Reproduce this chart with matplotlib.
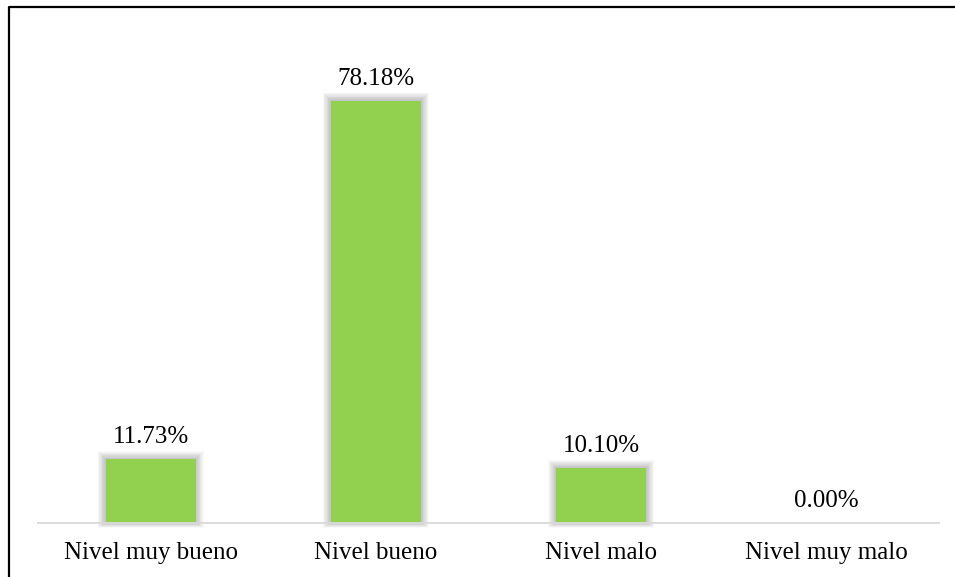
import matplotlib
matplotlib.use('Agg')
import matplotlib.pyplot as plt
from matplotlib.patches import Rectangle
from matplotlib.lines import Line2D

categories = ['Nivel muy bueno', 'Nivel bueno', 'Nivel malo', 'Nivel muy malo']
values = [11.73, 78.18, 10.10, 0.00]
labels = ['11.73%', '78.18%', '10.10%', '0.00%']

bar_color = '#92D050'
W, H = 955, 577
plt.rcParams['font.family'] = ['Liberation Serif', 'DejaVu Serif']

fig = plt.figure(figsize=(W / 100, H / 100), dpi=100)
ax = fig.add_axes([38 / W, 1 - 522.5 / H, 901 / W, 485.6 / H])
ax.set_xlim(-0.5, len(categories) - 0.5)
ax.set_ylim(0, 90)

bw = 0.4
xs = list(range(len(categories)))
ax.bar(xs, values, width=bw, color=bar_color, zorder=3)

# soft shadow around the bars (excel style)
px_x = len(categories) / 901.0
px_y = 90 / 485.6
for x, v in zip(xs, values):
    if v <= 0:
        continue
    for k in range(1, 11):
        r = Rectangle((x - bw / 2 - k * px_x * 0.8, -k * px_y * 0.5),
                      bw + 2 * k * px_x * 0.8, v + k * px_y * 1.3,
                      facecolor='#000000', edgecolor='none', alpha=0.022,
                      zorder=2, clip_on=False)
        ax.add_patch(r)

for x, v, t in zip(xs, values, labels):
    ax.annotate(t, (x, v), xytext=(0, 11.5), textcoords='offset points',
                ha='center', va='baseline', fontsize=18, color='#000000')

for s in ['top', 'right', 'left']:
    ax.spines[s].set_visible(False)
ax.spines['bottom'].set_color('#D9D9D9')
ax.spines['bottom'].set_linewidth(1.3)
ax.spines['bottom'].set_zorder(4)
ax.set_yticks([])
ax.set_xticks(xs)
ax.set_xticklabels(categories, fontsize=18)
ax.tick_params(axis='x', length=0, pad=14)

# outer frame (left and top edges)
fig.add_artist(Line2D([8.5 / W, 8.5 / W, 1.0], [0.0, 1 - 6.5 / H, 1 - 6.5 / H],
                      transform=fig.transFigure, color='black', linewidth=1.6))

fig.savefig('out.png', dpi=100)
